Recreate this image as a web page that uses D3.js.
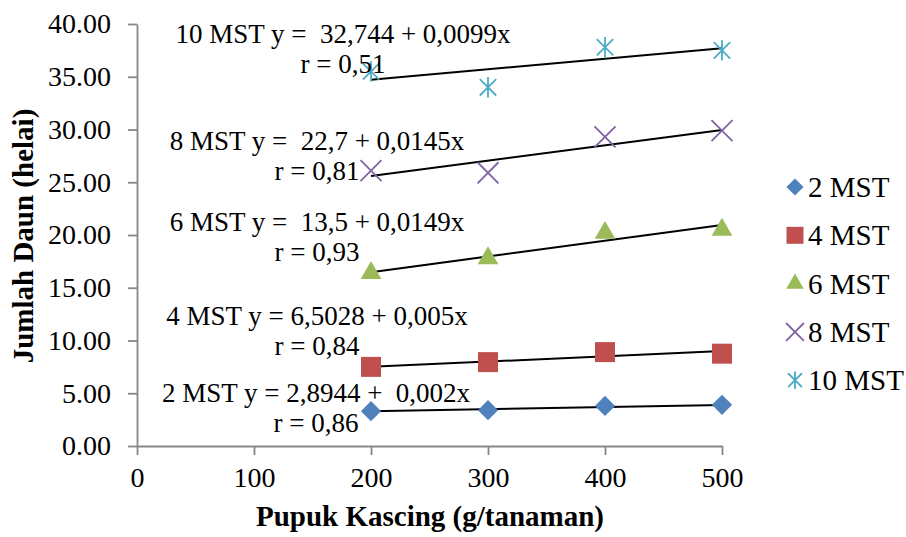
<!DOCTYPE html>
<html>
<head>
<meta charset="utf-8">
<script src="https://cdn.jsdelivr.net/npm/d3@7"></script>
<style>
  body { margin: 0; background: #fff; }
  svg text { font-family: "Liberation Serif", serif !important; fill: #000; }
</style>
</head>
<body>
<svg id="chart" width="906" height="537"></svg>
<script>
// data
const doses = [200, 300, 400, 500];
const seriesNames = ['2 MST', '4 MST', '6 MST', '8 MST', '10 MST'];
const mst2 = [3.3, 3.4, 3.8, 3.9];
const mst4 = [7.5, 7.95, 8.9, 8.75];
const mst6 = [16.4, 17.8, 20.2, 20.5];
const mst8 = [26.1, 25.9, 29.3, 29.9];
const mst10 = [35.5, 34.0, 37.8, 37.5];
// linear trend coefficients printed on the chart
const intercepts = [2.8944, 6.5028, 13.5, 22.7, 32.744];
const slopes = [0.002, 0.005, 0.0149, 0.0145, 0.0099];
const eqLabels = [
  '2 MST y = 2,8944 +  0,002x',
  '4 MST y = 6,5028 + 0,005x',
  '6 MST y =  13,5 + 0,0149x',
  '8 MST y =  22,7 + 0,0145x',
  '10 MST y =  32,744 + 0,0099x'
];
const rLabels = ['r = 0,86', 'r = 0,84', 'r = 0,93', 'r = 0,81', 'r = 0,51'];
const yTicks = [0, 5, 10, 15, 20, 25, 30, 35, 40];
const xTicks = [0, 100, 200, 300, 400, 500];

const allValues = [mst2, mst4, mst6, mst8, mst10];
const colors = ['#4F81BD', '#C0504D', '#9BBB59', '#8064A2', '#4BACC6'];

const svg = d3.select('#chart');

const x = d3.scaleLinear().domain([0, 500]).range([137, 722]);
const y = d3.scaleLinear().domain([0, 40]).range([446, 24]);

// excel style asterisk: an x with a vertical bar
const asterisk = {
  draw(ctx, size) {
    const r = Math.sqrt(size) / 2;
    const d = r * 0.8;
    ctx.moveTo(-d, -d); ctx.lineTo(d, d);
    ctx.moveTo(-d, d); ctx.lineTo(d, -d);
    ctx.moveTo(0, -r); ctx.lineTo(0, r);
  }
};
const shapes = [
  { type: d3.symbolDiamond2, size: 260, fill: true },
  { type: d3.symbolSquare, size: 400, fill: true },
  { type: d3.symbolTriangle, size: 185, fill: true },
  { type: d3.symbolTimes, size: 290, fill: false },
  { type: asterisk, size: 420, fill: false }
];

function drawMark(sel, i, k) {
  const s = shapes[i];
  sel.attr('d', d3.symbol().type(s.type).size(s.size * k))
    .attr('fill', s.fill ? colors[i] : 'none')
    .attr('stroke', s.fill ? 'none' : colors[i])
    .attr('stroke-width', 1.8);
}

// axes
const yAxis = svg.append('g')
  .attr('transform', `translate(${x(0)},0)`)
  .call(d3.axisLeft(y).tickValues(yTicks).tickFormat(d3.format('.2f')).tickSize(9).tickSizeOuter(0).tickPadding(17));
const xAxis = svg.append('g')
  .attr('transform', `translate(0,${y(0)})`)
  .call(d3.axisBottom(x).tickValues(xTicks).tickSize(9).tickSizeOuter(0).tickPadding(12));

[yAxis, xAxis].forEach(a => {
  a.select('.domain').attr('stroke', '#878787').attr('stroke-width', 1.8);
  a.selectAll('.tick line').attr('stroke', '#878787').attr('stroke-width', 1.8);
  a.selectAll('.tick text').attr('font-size', 28).attr('fill', '#000');
});

// trend lines
allValues.forEach((vals, i) => {
  const x0 = d3.min(doses), x1 = d3.max(doses);
  svg.append('line')
    .attr('x1', x(x0)).attr('y1', y(intercepts[i] + slopes[i] * x0))
    .attr('x2', x(x1)).attr('y2', y(intercepts[i] + slopes[i] * x1))
    .attr('stroke', '#000').attr('stroke-width', 2);
});

// points
allValues.forEach((vals, i) => {
  svg.append('g').selectAll('path')
    .data(vals)
    .join('path')
    .attr('transform', (d, j) => `translate(${x(doses[j])},${y(d)})`)
    .call(drawMark, i, 1);
});

// equation labels
const eqX = [316, 317, 317, 317, 343];
const eqY = [402, 325, 231, 150, 43];
eqLabels.forEach((t, i) => {
  const g = svg.append('text')
    .attr('text-anchor', 'middle')
    .attr('font-size', 27)
    .style('white-space', 'pre');
  g.append('tspan').attr('x', eqX[i]).attr('y', eqY[i]).text(t);
  g.append('tspan').attr('x', eqX[i]).attr('y', eqY[i] + 30).text(rLabels[i]);
});

// axis titles
svg.append('text')
  .attr('transform', 'translate(33,236) rotate(-90)')
  .attr('text-anchor', 'middle')
  .attr('font-size', 29)
  .attr('font-weight', 'bold')
  .text('Jumlah Daun (helai)');

svg.append('text')
  .attr('x', 430).attr('y', 526)
  .attr('text-anchor', 'middle')
  .attr('font-size', 29)
  .attr('font-weight', 'bold')
  .text('Pupuk Kascing (g/tanaman)');

// legend
const legend = svg.append('g').selectAll('g')
  .data(seriesNames)
  .join('g')
  .attr('transform', (d, i) => `translate(795,${187 + i * 48.3})`);
legend.append('path').each(function (d, i) {
  d3.select(this).call(drawMark, i, 0.72);
});
legend.append('text')
  .attr('x', 13).attr('y', 10)
  .attr('font-size', 29)
  .text(d => d);
</script>
</body>
</html>
